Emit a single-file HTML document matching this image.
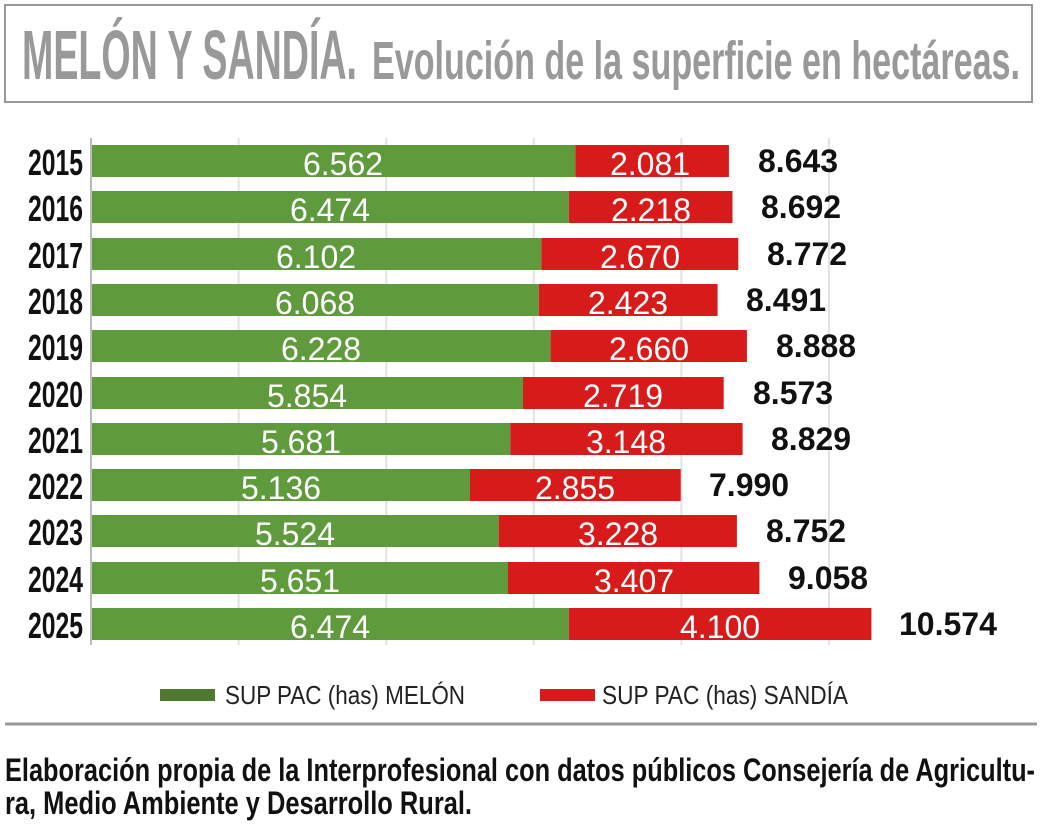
<!DOCTYPE html>
<html><head><meta charset="utf-8"><style>html,body{margin:0;padding:0;background:#fff}svg{display:block}</style></head>
<body>
<svg width="1042" height="828" xmlns="http://www.w3.org/2000/svg" font-family="'Liberation Sans', sans-serif">
<rect x="5" y="5" width="1027" height="97" fill="#fff" stroke="#999" stroke-width="2"/>
<text x="22" y="79" font-size="70" font-weight="bold" fill="#999" textLength="335" lengthAdjust="spacingAndGlyphs">MELÓN Y SANDÍA.</text>
<text x="372" y="79" font-size="54" font-weight="bold" fill="#999" textLength="648" lengthAdjust="spacingAndGlyphs">Evolución de la superficie en hectáreas.</text>
<g stroke="#e2e2e2" stroke-width="2">
<line x1="238.6" y1="138" x2="238.6" y2="645"/><line x1="386.2" y1="138" x2="386.2" y2="645"/><line x1="533.8" y1="138" x2="533.8" y2="645"/><line x1="681.4" y1="138" x2="681.4" y2="645"/><line x1="829" y1="138" x2="829" y2="645"/>
</g>
<line x1="91" y1="138" x2="91" y2="645" stroke="#bbb" stroke-width="2"/>
<g fill="#5f9b3c">
<rect x="92" y="145" width="483.3" height="32"/><rect x="92" y="191" width="476.8" height="32"/><rect x="92" y="238" width="449.3" height="32"/><rect x="92" y="284" width="446.8" height="32"/><rect x="92" y="330" width="458.6" height="32"/><rect x="92" y="377" width="431" height="32"/><rect x="92" y="423" width="418.3" height="32"/><rect x="92" y="469" width="378" height="32"/><rect x="92" y="515" width="406.7" height="32"/><rect x="92" y="562" width="416" height="32"/><rect x="92" y="608" width="476.8" height="32"/>
</g>
<g fill="#d71a1a">
<rect x="575.3" y="145" width="153.6" height="32"/><rect x="568.8" y="191" width="163.7" height="32"/><rect x="541.3" y="238" width="197" height="32"/><rect x="538.8" y="284" width="178.8" height="32"/><rect x="550.6" y="330" width="196.3" height="32"/><rect x="523" y="377" width="200.7" height="32"/><rect x="510.3" y="423" width="232.3" height="32"/><rect x="470" y="469" width="210.7" height="32"/><rect x="498.7" y="515" width="238.2" height="32"/><rect x="508" y="562" width="251.4" height="32"/><rect x="568.8" y="608" width="302.6" height="32"/>
</g>
<g font-size="36" font-weight="bold" fill="#111" text-anchor="end">
<text x="83" y="175" textLength="55" lengthAdjust="spacingAndGlyphs">2015</text>
<text x="83" y="221" textLength="55" lengthAdjust="spacingAndGlyphs">2016</text>
<text x="83" y="268" textLength="55" lengthAdjust="spacingAndGlyphs">2017</text>
<text x="83" y="314" textLength="55" lengthAdjust="spacingAndGlyphs">2018</text>
<text x="83" y="360" textLength="55" lengthAdjust="spacingAndGlyphs">2019</text>
<text x="83" y="407" textLength="55" lengthAdjust="spacingAndGlyphs">2020</text>
<text x="83" y="453" textLength="55" lengthAdjust="spacingAndGlyphs">2021</text>
<text x="83" y="499" textLength="55" lengthAdjust="spacingAndGlyphs">2022</text>
<text x="83" y="545" textLength="55" lengthAdjust="spacingAndGlyphs">2023</text>
<text x="83" y="592" textLength="55" lengthAdjust="spacingAndGlyphs">2024</text>
<text x="83" y="638" textLength="55" lengthAdjust="spacingAndGlyphs">2025</text>
</g>
<g font-size="32" fill="#fff" text-anchor="middle">
<text x="343" y="175">6.562</text><text x="650" y="175">2.081</text>
<text x="330" y="221">6.474</text><text x="651" y="221">2.218</text>
<text x="316" y="268">6.102</text><text x="640" y="268">2.670</text>
<text x="315" y="314">6.068</text><text x="628" y="314">2.423</text>
<text x="321" y="360">6.228</text><text x="649" y="360">2.660</text>
<text x="307" y="407">5.854</text><text x="623" y="407">2.719</text>
<text x="301" y="453">5.681</text><text x="626" y="453">3.148</text>
<text x="281" y="499">5.136</text><text x="575" y="499">2.855</text>
<text x="295" y="545">5.524</text><text x="618" y="545">3.228</text>
<text x="300" y="592">5.651</text><text x="634" y="592">3.407</text>
<text x="330" y="638">6.474</text><text x="720" y="638">4.100</text>
</g>
<g font-size="32" font-weight="bold" fill="#111">
<text x="758" y="172">8.643</text>
<text x="761" y="218">8.692</text>
<text x="767" y="265">8.772</text>
<text x="746" y="311">8.491</text>
<text x="776" y="357">8.888</text>
<text x="753" y="404">8.573</text>
<text x="771" y="450">8.829</text>
<text x="709" y="496">7.990</text>
<text x="766" y="542">8.752</text>
<text x="788" y="589">9.058</text>
<text x="899" y="635">10.574</text>
</g>
<rect x="160" y="689" width="55" height="12" fill="#4e7a2f"/>
<text x="225" y="704" font-size="26" fill="#222" textLength="240" lengthAdjust="spacingAndGlyphs">SUP PAC (has) MELÓN</text>
<rect x="540" y="689" width="55" height="12" fill="#d71a1a"/>
<text x="602" y="704" font-size="26" fill="#222" textLength="246" lengthAdjust="spacingAndGlyphs">SUP PAC (has) SANDÍA</text>
<line x1="5" y1="724" x2="1037" y2="724" stroke="#999" stroke-width="3"/>
<text x="5" y="781" font-size="32" font-weight="bold" fill="#111" textLength="1030" lengthAdjust="spacingAndGlyphs">Elaboración propia de la Interprofesional con datos públicos Consejería de Agricultu-</text>
<text x="5" y="814" font-size="32" font-weight="bold" fill="#111" textLength="467" lengthAdjust="spacingAndGlyphs">ra, Medio Ambiente y Desarrollo Rural.</text>
</svg>
</body></html>
